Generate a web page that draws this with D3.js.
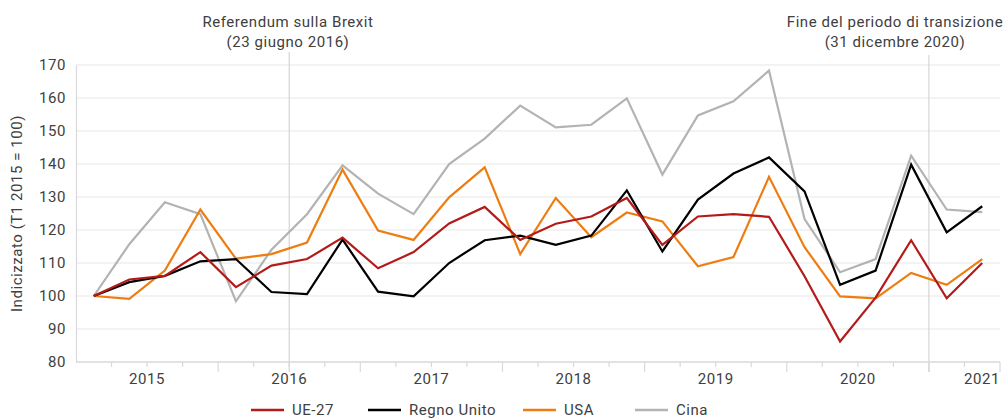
<!DOCTYPE html>
<html lang="it">
<head>
<meta charset="UTF-8">
<title>Indicizzato (T1 2015 = 100)</title>
<script src="https://d3js.org/d3.v7.min.js"></script>
<style>
  body { margin: 0; background: #fff; }
  svg { display: block; font-family: Roboto, "DejaVu Sans", sans-serif; letter-spacing: 0.55px; }
</style>
</head>
<body>
<div id="chart"></div>
<script>
// quarters T1 2015 .. T2 2021
const years = ["2015", "2016", "2017", "2018", "2019", "2020", "2021"];
const quarters = [];
years.forEach(y => [1, 2, 3, 4].forEach(q => quarters.push(y + "-T" + q)));
quarters.splice(26);

const ue27 = [100, 105, 106.1, 113.3, 102.7, 109.2, 111.2, 117.7, 108.4, 113.3, 122, 127,
  117, 121.9, 124.1, 129.7, 115.5, 124.1, 124.8, 124, 106, 86.2, 99.5, 116.9, 99.3, 110];
const regnoUnito = [100, 104.2, 106.1, 110.5, 111.2, 101.2, 100.6, 117.1, 101.3, 99.9, 110, 116.9,
  118.3, 115.5, 118.3, 132, 113.5, 129.2, 137.1, 142, 131.7, 103.4, 107.7, 139.8, 119.3, 127.2];
const usa = [100, 99.1, 107.7, 126.2, 111.3, 112.7, 116.2, 138.3, 119.8, 117, 129.9, 139,
  112.7, 129.7, 117.8, 125.3, 122.6, 109, 111.8, 136.1, 114.8, 99.9, 99.3, 107, 103.4, 111.2];
const cina = [100, 115.7, 128.4, 124.8, 98.4, 114, 124.8, 139.6, 131, 124.8, 140, 147.7,
  157.7, 151.1, 151.9, 159.9, 136.8, 154.7, 159, 168.3, 123.3, 107.2, 111.2, 142.5, 126.2, 125.4];

const seriesNames = ["UE-27", "Regno Unito", "USA", "Cina"];
const seriesColors = ["#b31b1b", "#000000", "#ee7d11", "#b3b3b3"];
const seriesValues = [ue27, regnoUnito, usa, cina];

const yTicks = [80, 90, 100, 110, 120, 130, 140, 150, 160, 170];

const events = [
  { at: "2016-T2", lines: ["Referendum sulla Brexit", "(23 giugno 2016)"], textX: 288, top: 52 },
  { at: "2020-T4", lines: ["Fine del periodo di transizione", "(31 dicembre 2020)"], textX: 895, top: 55 }
];

const W = 1007, H = 418;
const margin = { top: 65, right: 7, bottom: 56, left: 76 };

const svg = d3.select("#chart").append("svg")
  .attr("width", W).attr("height", H);

const x = d3.scaleBand()
  .domain(quarters)
  .range([margin.left, W - margin.right]);

const y = d3.scaleLinear()
  .domain([80, 170])
  .range([H - margin.bottom, margin.top]);

// grid
svg.append("g")
  .selectAll("line")
  .data(yTicks.slice(1))
  .join("line")
  .attr("x1", margin.left).attr("x2", W - margin.right)
  .attr("y1", d => y(d)).attr("y2", d => y(d))
  .attr("stroke", "#e8e8e8").attr("stroke-width", 1.2);

// y axis
const yAxis = svg.append("g")
  .attr("transform", `translate(${margin.left},0)`)
  .call(d3.axisLeft(y).tickValues(yTicks).tickSize(0).tickPadding(10));
yAxis.select(".domain").attr("stroke", "#d9d9d9").attr("stroke-width", 1.2);
yAxis.selectAll("text").attr("font-size", 15).attr("fill", "#404040")
  .attr("font-family", "Roboto, sans-serif");

svg.append("text")
  .attr("transform", `translate(22,${(margin.top + H - margin.bottom) / 2}) rotate(-90)`)
  .attr("text-anchor", "middle")
  .attr("font-size", 15).attr("fill", "#404040")
  .text("Indicizzato (T1 2015 = 100)");

// event lines
events.forEach(ev => {
  const ex = x(ev.at) + x.bandwidth();
  svg.append("line")
    .attr("x1", ex).attr("x2", ex)
    .attr("y1", ev.top).attr("y2", H - margin.bottom + 10)
    .attr("stroke", "#d4d4d4").attr("stroke-width", 1.2);
  ev.lines.forEach((t, i) => {
    svg.append("text")
      .attr("x", ev.textX).attr("y", 27 + i * 20)
      .attr("text-anchor", "middle")
      .attr("font-size", 15).attr("fill", "#404040")
      .text(t);
  });
});

// x axis
const base = H - margin.bottom;
svg.append("line")
  .attr("x1", margin.left).attr("x2", W - margin.right)
  .attr("y1", base).attr("y2", base)
  .attr("stroke", "#d9d9d9").attr("stroke-width", 1.5);

svg.append("g")
  .selectAll("line")
  .data(quarters.slice(1).concat(["end"]))
  .join("line")
  .attr("x1", d => d === "end" ? W - margin.right : x(d))
  .attr("x2", d => d === "end" ? W - margin.right : x(d))
  .attr("y1", base)
  .attr("y2", d => d === "end" || d.endsWith("T1") ? base + 10 : base + 5)
  .attr("stroke", "#d9d9d9").attr("stroke-width", 1.2);

svg.append("g")
  .selectAll("text")
  .data(years)
  .join("text")
  .attr("x", d => {
    if (d === "2021") return W - margin.right;
    return x(d + "-T3");
  })
  .attr("text-anchor", d => d === "2021" ? "end" : "middle")
  .attr("y", base + 22)
  .attr("font-size", 15).attr("fill", "#404040")
  .text(d => d);

// series lines
const line = d3.line()
  .x((d, i) => x(quarters[i]) + x.bandwidth() / 2)
  .y(d => y(d));

svg.append("g")
  .selectAll("path")
  .data(seriesValues.map((v, i) => ({ v, c: seriesColors[i] })).reverse())
  .join("path")
  .attr("d", d => line(d.v))
  .attr("fill", "none")
  .attr("stroke", d => d.c)
  .attr("stroke-width", 2.2)
  .attr("stroke-linejoin", "miter");

// legend
const legendX = [251, 368, 523, 635];
const legend = svg.append("g")
  .selectAll("g")
  .data(seriesNames)
  .join("g")
  .attr("transform", (d, i) => `translate(${legendX[i]},410)`);
legend.append("line")
  .attr("x1", 0).attr("x2", 33)
  .attr("stroke", (d, i) => seriesColors[i]).attr("stroke-width", 2.5);
legend.append("text")
  .attr("x", 41).attr("y", 5)
  .attr("font-size", 15).attr("fill", "#404040")
  .text(d => d);
</script>
</body>
</html>
